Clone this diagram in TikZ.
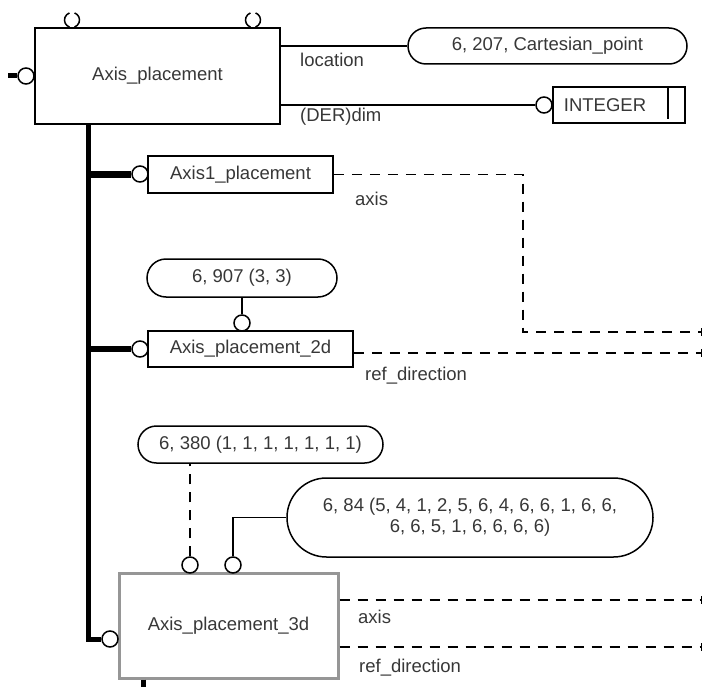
\documentclass[tikz,border=0pt]{standalone}
\usepackage{fontspec}
\setmainfont{Liberation Sans}
\usepackage{tikz}
\usetikzlibrary{positioning, shapes.misc, arrows.meta}
\definecolor{TextGray}{RGB}{55,55,55}
\definecolor{BoxGray}{RGB}{150,150,150}

\begin{document}
\begin{tikzpicture}[x=1pt, y=-1pt,
  font=\fontsize{18.5}{21}\selectfont, text=TextGray,
  entity/.style={rectangle, draw, line width=1.5pt, inner sep=0pt, align=center},
  value/.style={rounded rectangle, draw, line width=1.5pt, inner sep=0pt, align=center},
  port/.style={circle, draw, fill=white, line width=1.5pt, minimum size=16pt, inner sep=0pt},
  link/.style={line width=1.5pt},
  optlink/.style={line width=1.5pt, dash pattern=on 10pt off 8pt},
  reflink/.style={optlink, -{Bar[width=8pt, line width=1.5pt]}},
  trunk/.style={line width=5pt},
  lbl/.style={anchor=west, inner sep=0pt}
]
\useasboundingbox (0,0) rectangle (703,687);

% supertype
\node[entity, minimum width=245pt, minimum height=96pt] (ap) at (157.5,76) {Axis\_placement};
\node[port] (apin) at (26,76) {};
\coordinate (stub) at (8,76);
\draw[line width=5pt] (stub) -- (apin.west);
\draw[link] (72,20) ++(110:7.5) arc (110:250:7.5);
\draw[link] (72,20) ++(-70:7.5) arc (-70:70:7.5);
\draw[link] (253,20) ++(110:7.5) arc (110:250:7.5);
\draw[link] (253,20) ++(-70:7.5) arc (-70:70:7.5);

% attributes
\node[value, minimum width=279pt, minimum height=36pt] (cart) at (547.5,46) {6, 207, Cartesian\_point};
\node[entity, minimum width=132pt, minimum height=36pt] (int) at (619,105) {INTEGER\hspace*{28pt}};
\node[port] (intin) at (544,105) {};
\draw[link] ([xshift=-18pt]int.north east) -- ++(0,33);
\draw[link] (ap.east |- cart) -- (cart.west);
\draw[link] (ap.east |- intin) -- (intin.west);
\node[lbl] (loc) at (300,60) {location};
\node[lbl] (dim) at (300,117) {(DER)dim};

% subtypes
\node[entity, minimum width=185pt, minimum height=37pt] (ax1) at (240.5,174.5) {Axis1\_placement};
\node[port] (ax1in) at (140,174) {};
\node[value, minimum width=190pt, minimum height=38pt] (p907) at (242,278) {6, 907 (3, 3)};
\node[entity, minimum width=205pt, minimum height=36pt] (ax2) at (250.5,349) {Axis\_placement\_2d};
\node[port] (ax2in) at (140,349) {};
\node[port] (ax2top) at (242,323) {};
\node[value, minimum width=245pt, minimum height=37pt] (p380) at (260.5,444.5) {6, 380 (1, 1, 1, 1, 1, 1, 1)};
\node[value, minimum width=366pt, minimum height=79pt] (p84) at (470,517.5) {6, 84 (5, 4, 1, 2, 5, 6, 4, 6, 6, 1, 6, 6,\\6, 6, 5, 1, 6, 6, 6, 6)};
\node[entity, draw=BoxGray, line width=3pt, minimum width=219pt, minimum height=105pt] (ax3) at (228.5,625.5) {Axis\_placement\_3d};
\node[port] (ax3in) at (110,639) {};
\node[port] (ax3a) at (190,565) {};
\node[port] (ax3b) at (233,565) {};

% tree
\coordinate (trunktop) at (88,124);
\coordinate (tail) at (143,687);
\draw[trunk] (trunktop) |- (ax3in.west);
\draw[line width=7pt] (trunktop |- ax1in) -- (ax1in.west);
\draw[line width=6pt] (trunktop |- ax2in) -- (ax2in.west);
\draw[trunk] (ax3.south -| tail) -- (tail);

% value links
\draw[link] (p907.south) -- (ax2top.north);
\draw[optlink] (ax3a.north) -- (ax3a |- p380.south);
\draw[link] (p84.west) -| (ax3b.north);

% references
\coordinate (e1) at (702,332);
\coordinate (e2) at (702,353);
\coordinate (e3) at (702,600);
\coordinate (e4) at (702,647);
\draw[reflink] (ax1.east) -- ++(189,0) |- (e1);
\draw[reflink] (ax2.east |- e2) -- (e2);
\draw[reflink] (ax3.east |- e3) -- (e3);
\draw[reflink] (ax3.east |- e4) -- (e4);
\node[lbl] (ax1lbl) at (355,199) {axis};
\node[lbl] (ax2lbl) at (365,376) {ref\_direction};
\node[lbl] (ax3lbl) at (358,617) {axis};
\node[lbl] (ax3lbl2) at (359,668) {ref\_direction};
\end{tikzpicture}
\end{document}
